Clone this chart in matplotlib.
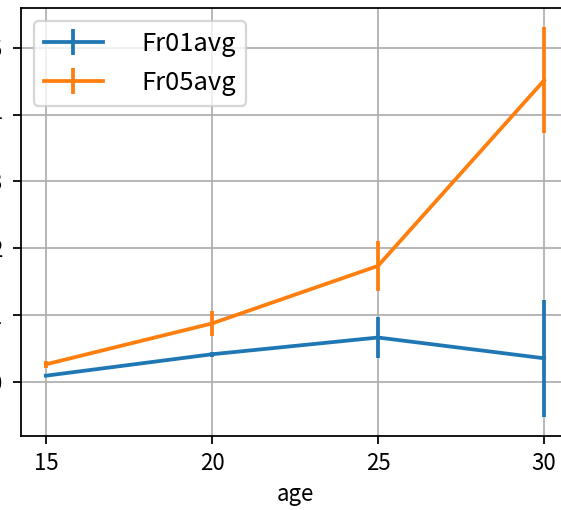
import matplotlib
matplotlib.use("Agg")
import matplotlib.pyplot as plt
import numpy as np

plt.rcParams['font.family'] = ['Noto Sans CJK JP', 'DejaVu Sans']

age = [15, 20, 25, 30]
fr01avg = [0.10, 0.42, 0.67, 0.36]
fr01err = [0.02, 0.04, 0.31, 0.87]
fr05avg = [0.27, 0.88, 1.74, 4.51]
fr05err = [0.05, 0.18, 0.37, 0.79]

# original was drawn at a higher dpi and cropped; keep the axes box where it was
dpi = 160
fig = plt.figure(figsize=(561 / dpi, 510 / dpi), dpi=dpi)
ax = fig.add_axes([21 / 561, 74 / 510, 548 / 561, 428 / 510])

ax.errorbar(age, fr01avg, yerr=fr01err, lw=1.7, elinewidth=1.7, label="Fr01avg")
ax.errorbar(age, fr05avg, yerr=fr05err, lw=1.7, elinewidth=1.7, label="Fr05avg")

ax.set_xticks([15, 20, 25, 30])
ax.set_yticks([0, 1, 2, 3, 4, 5])
ax.tick_params(axis="y", pad=5)
ax.grid(True)
ax.set_axisbelow(True)
ax.set_xlabel("age")
ax.legend(loc="upper left", fontsize=11.5, handlelength=2.3, handletextpad=1.5)

fig.savefig("out.png", dpi=dpi)
